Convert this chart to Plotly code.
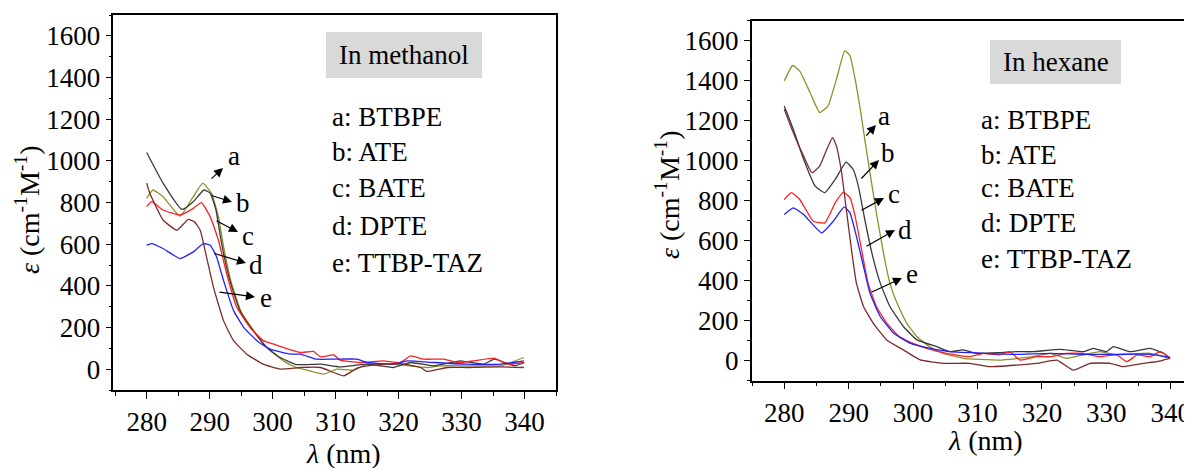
import plotly.graph_objects as go

# ---------------- data: methanol (left panel) ----------------
meth_a_x = [280, 281, 282.6, 285.3, 287.4, 288.9, 290.3, 291.4, 292.2, 293.4, 295, 297, 299.2, 301.7, 303.8, 305.5, 308.1, 310.2, 312.9, 315, 319.2, 324.5, 326.6, 330.9, 336.2, 339.9]
meth_a_y = [820, 860, 828, 735, 828, 893, 844, 731, 590, 420, 275, 185, 100, 40, 8, -5, -24, 0, -5, 24, 24, 8, 16, 16, 16, 56]

meth_b_x = [280, 282.6, 285.6, 287.4, 289.1, 290.1, 291.0, 291.9, 293.2, 294.8, 296.9, 299.1, 301.2, 303.8, 307.6, 310.7, 315.0, 319.2, 321.9, 325.6, 329.8, 333.5, 335.2, 338.4, 340]
meth_b_y = [1040, 893, 767, 804, 860, 844, 764, 603, 426, 281, 185, 104, 56, 22, 24, 11, 24, 8, 32, 16, 40, 24, 48, 16, 32]

meth_c_x = [280, 280.8, 282.6, 285.3, 287.4, 288.7, 290.1, 291.4, 292.7, 294.3, 296.4, 298.5, 300.1, 301.7, 304.4, 306.5, 307.6, 309.7, 310.7, 313.9, 317.6, 320.3, 321.9, 324, 327.2, 329.3, 332, 335.2, 337.3, 339.9]
meth_c_y = [780, 804, 764, 740, 772, 799, 731, 619, 458, 297, 201, 137, 121, 104, 80, 85, 59, 69, 43, 32, 40, 32, 64, 48, 48, 32, 40, 53, 24, 32]

meth_d_x = [280, 280.8, 282.6, 285.3, 287.4, 289, 290.1, 291.1, 292.2, 293.8, 295.4, 297.5, 299.6, 302.8, 304.4, 307, 309.7, 313.4, 315, 319.2, 321.4, 325.6, 330.9, 336.2, 339.9]
meth_d_y = [595, 603, 579, 531, 563, 603, 595, 539, 426, 281, 201, 137, 96, 72, 72, 48, 48, 48, 32, 24, 40, 32, 24, 24, 40]

meth_e_x = [280, 280.5, 282.6, 284.8, 286.6, 287.6, 288.5, 289.5, 290.6, 292.2, 293.8, 295.9, 298.5, 301.2, 304.4, 307.6, 311.3, 313.4, 315, 320.3, 323.5, 324.5, 327.7, 330.9, 336.2, 339.9]
meth_e_y = [893, 844, 716, 667, 719, 707, 667, 539, 394, 233, 137, 72, 24, 0, 8, 8, -32, 5, 16, 27, 8, -11, 8, 8, 11, 8]

# ---------------- data: hexane (right panel) ----------------
hex_a_x = [280, 281.3, 282.4, 284, 285.5, 286.8, 288.1, 289.4, 290.2, 291, 291.8, 292.5, 293.3, 294.3, 295.4, 296.4, 297.5, 299, 300.6, 302.6, 304.7, 307.8, 313.4, 318.6, 321.3, 323.8, 326.4, 329, 331.6, 336.8, 339.9]
hex_a_y = [1399, 1476, 1448, 1341, 1241, 1274, 1408, 1550, 1525, 1408, 1257, 1107, 940, 739, 539, 388, 288, 188, 120, 70, 37, 12, 3, 20, 37, 12, 29, 45, 29, 37, 12]

hex_b_x = [280, 281.4, 283, 284.8, 286.3, 287.9, 289.6, 290.7, 291.5, 292.5, 293.6, 294.9, 296.4, 298.5, 300.6, 303.7, 305.7, 307.8, 309.8, 313.4, 316, 318.6, 322.8, 326.4, 328, 330, 331.1, 333.7, 336.8, 338.9, 339.9]
hex_b_y = [1274, 1157, 1007, 873, 840, 906, 993, 956, 873, 706, 539, 388, 271, 171, 104, 70, 45, 54, 37, 40, 45, 45, 57, 45, 62, 45, 70, 45, 62, 37, 12]

hex_c_x = [280, 281.1, 282.4, 284.5, 286.3, 287.9, 289.2, 290.2, 291, 292, 293, 294.3, 295.9, 297.9, 300, 302.1, 305.2, 308.8, 310.9, 313.4, 315, 316.6, 319.2, 321.3, 323.8, 326.4, 329, 331.6, 333.2, 334.8, 336.8, 338.4, 339.9]
hex_c_y = [806, 840, 806, 697, 689, 789, 843, 815, 722, 555, 388, 271, 188, 120, 87, 62, 37, 20, 37, 29, 45, 3, 20, 20, 37, 37, 20, 29, -5, 29, 20, 45, 12]

hex_d_x = [280, 281.4, 283, 285.8, 287.6, 289.3, 290.2, 291.2, 292.3, 293.3, 294.9, 297, 299.6, 302.7, 305.8, 310.9, 316, 321.3, 326.4, 331.6, 336.8, 339.9]
hex_d_y = [731, 764, 731, 639, 697, 769, 739, 622, 471, 338, 221, 137, 87, 62, 45, 37, 32, 37, 32, 32, 32, 17]

hex_e_x = [280, 281.4, 283, 284.3, 285.5, 286.6, 287.5, 288.1, 288.9, 289.7, 290.5, 291.2, 292.3, 293.8, 295.9, 298.5, 301.1, 304.7, 308.8, 311.9, 316, 319.2, 322.3, 324.9, 327.5, 330.6, 332.7, 335.8, 337.8, 339.9]
hex_e_y = [1257, 1140, 1023, 940, 973, 1057, 1115, 1073, 940, 739, 539, 388, 271, 188, 104, 54, 4, -13, -13, -30, -22, -13, 3, -47, -13, -13, -30, -13, -5, 12]

legend_letters = ["a", "b", "c", "d", "e"]
legend_names = ["BTBPE", "ATE", "BATE", "DPTE", "TTBP-TAZ"]
tick_vals_x = [280, 290, 300, 310, 320, 330, 340]
tick_vals_y = [0, 200, 400, 600, 800, 1000, 1200, 1400, 1600]

# ---------------- styling ----------------
# The page body has an 8px margin, so the figure is sized to fit the 1192x468 window
OFF = 8
W, H = 1192 - OFF, 468 - OFF
FONT = "Times New Roman, Liberation Serif, DejaVu Serif, serif"
COLORS = {"a": "#8f8f2b", "b": "#3a3a3a", "c": "#ff2020", "d": "#2020ff", "e": "#7b2b2b"}

def fx(px):
    return (px - OFF) / W

def fy(py):
    return 1 - (py - OFF) / H

fig = go.Figure()

left = {"a": (meth_a_x, meth_a_y), "b": (meth_b_x, meth_b_y), "c": (meth_c_x, meth_c_y),
        "d": (meth_d_x, meth_d_y), "e": (meth_e_x, meth_e_y)}
right = {"a": (hex_a_x, hex_a_y), "b": (hex_b_x, hex_b_y), "c": (hex_c_x, hex_c_y),
         "d": (hex_d_x, hex_d_y), "e": (hex_e_x, hex_e_y)}

for key in ["a", "b", "c", "d", "e"]:
    xs, ys = left[key]
    fig.add_trace(go.Scatter(x=xs, y=ys, mode="lines", xaxis="x", yaxis="y",
                             line=dict(color=COLORS[key], width=1.3, shape="spline", smoothing=0.4),
                             showlegend=False, hoverinfo="skip"))
for key in ["a", "b", "c", "d", "e"]:
    xs, ys = right[key]
    fig.add_trace(go.Scatter(x=xs, y=ys, mode="lines", xaxis="x2", yaxis="y2",
                             line=dict(color=COLORS[key], width=1.3, shape="spline", smoothing=0.4),
                             showlegend=False, hoverinfo="skip"))

FS = 27
tickfont = dict(family=FONT, size=FS, color="black")

def xaxis_cfg(domain, rng, anchor):
    return dict(domain=domain, range=rng, anchor=anchor, automargin=False,
                tickmode="array", tickvals=tick_vals_x,
                ticks="outside", ticklen=7, tickwidth=1.2, tickcolor="black",
                minor=dict(ticks="outside", ticklen=4, dtick=5, tick0=0, tickcolor="black", tickwidth=1.2),
                showline=True, linecolor="black", linewidth=1.5, mirror=True,
                showgrid=False, zeroline=False, tickfont=tickfont)

def yaxis_cfg(domain, anchor, mirror):
    return dict(domain=domain, range=[-100, 1700], anchor=anchor, automargin=False,
                tickmode="array", tickvals=tick_vals_y,
                ticks="outside", ticklen=6, tickwidth=1.2, tickcolor="black",
                minor=dict(ticks="outside", ticklen=3, dtick=100, tick0=0, tickcolor="black", tickwidth=1.2),
                showline=True, linecolor="black", linewidth=1.5, mirror=mirror,
                showgrid=False, zeroline=False, tickfont=tickfont)

# panel frames in window pixels: (left, top, right, bottom)
LF = (113.3, 15, 556, 390)
RF = (751.7, 20.7, 1192, 380.7)

fig.update_layout(
    width=W, height=H, autosize=False,
    margin=dict(l=0, r=0, t=0, b=0, autoexpand=False),
    paper_bgcolor="white", plot_bgcolor="white",
    xaxis=xaxis_cfg([fx(LF[0]), fx(LF[2])], [274.7, 345], "y"),
    yaxis=yaxis_cfg([fy(LF[3]), fy(LF[1])], "x", True),
    xaxis2=xaxis_cfg([fx(RF[0]), 1.0], [274.94, 343.31], "y2"),
    yaxis2=yaxis_cfg([fy(RF[3]), fy(RF[1])], "x2", False),
)

shapes = []
annotations = []
txt = dict(family=FONT, size=FS, color="black")
title_font = dict(family=FONT, size=28, color="black")

# gray title boxes
for (x0, y0, x1, y1, label) in [(326, 32, 482, 78, "In methanol"), (990, 40, 1121, 84, "In hexane")]:
    shapes.append(dict(type="rect", xref="paper", yref="paper", x0=fx(x0), x1=fx(x1), y0=fy(y1), y1=fy(y0),
                       fillcolor="#d9d9d9", line=dict(width=0), layer="below"))
    annotations.append(dict(text=label, xref="paper", yref="paper", x=fx((x0 + x1) / 2), y=fy((y0 + y1) / 2),
                            showarrow=False, xanchor="center", yanchor="middle", font=txt))

# legend-like text lists
for (x_left, ys) in [(330, [117, 152, 188, 226, 263]), (979, [120, 155, 188, 223, 259])]:
    for letter, name, yy in zip(legend_letters, legend_names, ys):
        annotations.append(dict(text=f"{letter}: {name}", xref="paper", yref="paper", x=fx(x_left), y=fy(yy),
                                showarrow=False, xanchor="left", yanchor="middle", font=txt))

# arrows: (tail px, head px, label px)
arrows_left = [((210, 180), (223, 168), (234, 156)),
               ((210, 195), (232, 202), (243, 203)),
               ((215, 220), (238, 232), (248, 236)),
               ((213, 253), (246, 263), (256, 265)),
               ((218, 292), (255, 297), (266, 298))]
arrows_right = [((865, 137), (876, 125), (884, 116)),
                ((860, 180), (879, 160), (888, 153)),
                ((860, 211), (884, 198), (894, 194)),
                ((865, 247), (895, 230), (905, 230)),
                ((870, 293), (902, 278), (912, 274))]
for group in (arrows_left, arrows_right):
    for letter, (tail, head, lab) in zip(legend_letters, group):
        annotations.append(dict(text="", xref="paper", yref="paper", x=fx(head[0]), y=fy(head[1]),
                                showarrow=True, arrowhead=2, arrowsize=1.5, arrowwidth=1.2, arrowcolor="black",
                                ax=tail[0] - head[0], ay=tail[1] - head[1], standoff=0))
        annotations.append(dict(text=letter, xref="paper", yref="paper", x=fx(lab[0]), y=fy(lab[1]),
                                showarrow=False, xanchor="center", yanchor="middle", font=txt))

# axis titles
ytitle = "<i>ε</i> (cm<sup>-1</sup>M<sup>-1</sup>)"
xtitle = "<i>λ</i> (nm)"
for (xx, yy) in [(27, 210), (667, 195)]:
    annotations.append(dict(text=ytitle, xref="paper", yref="paper", x=fx(xx), y=fy(yy), textangle=-90,
                            showarrow=False, xanchor="center", yanchor="middle", font=title_font))
for (xx, yy) in [(343, 453), (985, 440)]:
    annotations.append(dict(text=xtitle, xref="paper", yref="paper", x=fx(xx), y=fy(yy),
                            showarrow=False, xanchor="center", yanchor="middle", font=title_font))

fig.update_layout(shapes=shapes, annotations=annotations)
fig.write_html("out.html")
